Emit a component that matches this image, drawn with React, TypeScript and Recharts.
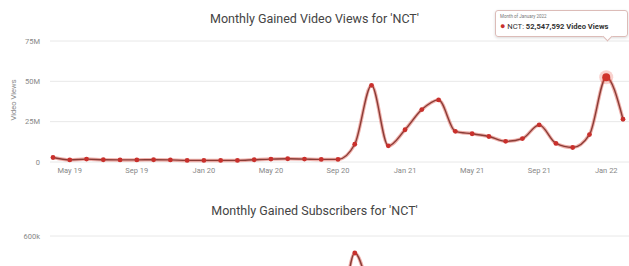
import React from 'react';
import { LineChart, Line, XAxis, YAxis, CartesianGrid } from 'recharts';

const months = [
  'Apr 19', 'May 19', 'Jun 19', 'Jul 19', 'Aug 19', 'Sep 19', 'Oct 19', 'Nov 19', 'Dec 19',
  'Jan 20', 'Feb 20', 'Mar 20', 'Apr 20', 'May 20', 'Jun 20', 'Jul 20', 'Aug 20', 'Sep 20',
  'Oct 20', 'Nov 20', 'Dec 20', 'Jan 21', 'Feb 21', 'Mar 21', 'Apr 21', 'May 21', 'Jun 21',
  'Jul 21', 'Aug 21', 'Sep 21', 'Oct 21', 'Nov 21', 'Dec 21', 'Jan 22', 'Feb 22',
];

const viewsValues = [
  2800000, 1300000, 1800000, 1400000, 1300000, 1300000, 1400000, 1300000, 1000000,
  1000000, 1000000, 1000000, 1400000, 1800000, 2000000, 1800000, 1600000, 1600000,
  11000000, 47500000, 10000000, 20000000, 32500000, 38500000, 19000000, 17500000, 15800000,
  12800000, 14500000, 23000000, 11500000, 9000000, 17000000, 52547592, 26500000,
];

const subsValues = [
  60000, 40000, 50000, 40000, 40000, 35000, 40000, 35000, 30000,
  30000, 30000, 30000, 40000, 50000, 50000, 45000, 45000, 120000,
  515000, 300000, 150000, 220000, 280000, 300000, 160000, 150000, 130000,
  110000, 120000, 180000, 100000, 90000, 150000, 380000, 200000,
];

const viewTicks = [0, 25000000, 50000000, 75000000];
const subTicks = [600000];
const subVisibleDomain = [420000, 600000];
const xTickIndexes = [1, 5, 9, 13, 17, 21, 25, 29, 33];
const highlightIndex = 33;
const tooltipHeader = 'Month of January 2022';
const seriesName = 'NCT';

const data = months.map((m, i) => ({ i, m, views: viewsValues[i], subs: subsValues[i] }));

const fmtY = (v: number) => (v === 0 ? '0' : v >= 1000000 ? `${v / 1000000}M` : `${v / 1000}k`);
const fmtX = (v: number) => months[v] ?? '';

const FONT = 'Roboto, "Open Sans", Arial, sans-serif';
const tickStyle = { fontSize: 7.5, fill: '#888', fontFamily: FONT };

const ViewDot = (props: any) => {
  const { cx, cy, index } = props;
  if (cx == null || cy == null) return null;
  if (index === highlightIndex) {
    return (
      <g key={`d${index}`}>
        <circle cx={cx} cy={cy} r={7} fill="rgba(231,76,60,0.25)" />
        <circle cx={cx} cy={cy} r={4} fill="#d0342c" />
      </g>
    );
  }
  return <circle key={`d${index}`} cx={cx} cy={cy} r={2.4} fill="#c9302c" />;
};

const SubDot = (props: any) => {
  const { cx, cy, index } = props;
  if (cx == null || cy == null) return null;
  return <circle key={`s${index}`} cx={cx} cy={cy} r={2.4} fill="#c9302c" />;
};

export default function App() {
  const peak = viewsValues[highlightIndex].toLocaleString('en-US');
  return (
    <div
      style={{
        position: 'absolute',
        left: 0,
        top: 0,
        width: 629,
        height: 266,
        overflow: 'hidden',
        background: '#fff',
        fontFamily: FONT,
      }}
    >
      <div
        style={{
          position: 'absolute',
          left: 0,
          top: 11,
          width: 629,
          textAlign: 'center',
          fontSize: 12.5,
          color: '#444',
        }}
      >
        Monthly Gained Video Views for 'NCT'
      </div>
      <div
        style={{
          position: 'absolute',
          left: 13,
          top: 100,
          transform: 'translate(-50%, -50%) rotate(-90deg)',
          fontSize: 7.5,
          color: '#888',
          whiteSpace: 'nowrap',
        }}
      >
        Video Views
      </div>
      <div style={{ position: 'absolute', left: 0, top: 0 }}>
        <LineChart width={629} height={180} data={data} margin={{ top: 41, right: 0, bottom: 0, left: 0 }}>
          <CartesianGrid vertical={false} stroke="#e8e8e8" />
          <XAxis
            dataKey="i"
            type="number"
            domain={[0, 34]}
            ticks={xTickIndexes}
            tickFormatter={fmtX}
            padding={{ left: 3, right: 6 }}
            axisLine={false}
            tickLine={false}
            tickSize={0}
            tickMargin={6}
            height={18}
            tick={tickStyle}
            interval={0}
          />
          <YAxis
            domain={[0, 75000000]}
            ticks={viewTicks}
            tickFormatter={fmtY}
            axisLine={false}
            tickLine={false}
            tickSize={0}
            tickMargin={10}
            width={50}
            tick={tickStyle}
          />
          <Line
            type="monotone"
            dataKey="views"
            stroke="rgba(226,110,100,0.55)"
            strokeWidth={3.5}
            dot={false}
            activeDot={false}
            isAnimationActive={false}
          />
          <Line
            type="monotone"
            dataKey="views"
            stroke="#8a3c36"
            strokeWidth={1.4}
            dot={ViewDot}
            activeDot={false}
            isAnimationActive={false}
          />
        </LineChart>
      </div>

      <div
        style={{
          position: 'absolute',
          left: 495,
          top: 10,
          width: 133,
          height: 27,
          boxSizing: 'border-box',
          border: '1px solid #dcbcb8',
          borderRadius: 3,
          background: 'rgba(255,255,255,0.96)',
          boxShadow: '0 1px 3px rgba(0,0,0,0.15)',
          fontSize: 7.6,
          color: '#333',
          padding: '3px 4px',
          whiteSpace: 'nowrap',
        }}
      >
        <div style={{ fontSize: 4.5, color: '#777', lineHeight: '6px' }}>{tooltipHeader}</div>
        <div style={{ lineHeight: '12px' }}>
          <span style={{ color: '#c9302c', fontSize: 9 }}>●</span> {seriesName}:{' '}
          <b>{peak} Video Views</b>
        </div>
        <div
          style={{
            position: 'absolute',
            left: 108,
            bottom: -4,
            width: 6,
            height: 6,
            background: '#fff',
            borderRight: '1px solid #dcbcb8',
            borderBottom: '1px solid #dcbcb8',
            transform: 'rotate(45deg)',
          }}
        />
      </div>

      <div
        style={{
          position: 'absolute',
          left: 0,
          top: 203,
          width: 629,
          textAlign: 'center',
          fontSize: 12.5,
          color: '#444',
        }}
      >
        Monthly Gained Subscribers for 'NCT'
      </div>
      <div style={{ position: 'absolute', left: 0, top: 190 }}>
        <LineChart width={629} height={82} data={data} margin={{ top: 46, right: 0, bottom: 0, left: 0 }}>
          <CartesianGrid vertical={false} stroke="#e8e8e8" />
          <XAxis
            dataKey="i"
            type="number"
            domain={[0, 34]}
            padding={{ left: 3, right: 6 }}
            hide
          />
          <YAxis
            domain={subVisibleDomain}
            allowDataOverflow
            ticks={subTicks}
            tickFormatter={fmtY}
            axisLine={false}
            tickLine={false}
            tickSize={0}
            tickMargin={10}
            width={50}
            tick={tickStyle}
          />
          <Line
            type="monotone"
            dataKey="subs"
            stroke="rgba(226,110,100,0.55)"
            strokeWidth={3.5}
            dot={false}
            activeDot={false}
            isAnimationActive={false}
          />
          <Line
            type="monotone"
            dataKey="subs"
            stroke="#8a3c36"
            strokeWidth={1.4}
            dot={SubDot}
            activeDot={false}
            isAnimationActive={false}
          />
        </LineChart>
      </div>
    </div>
  );
}
